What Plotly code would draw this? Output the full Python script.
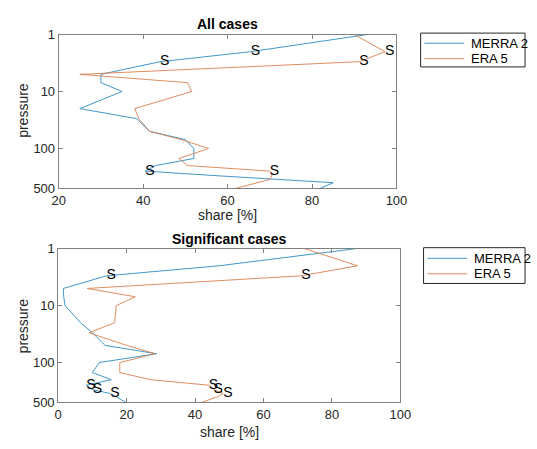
import plotly.graph_objects as go
import numpy as np

pressure = [1, 2, 3, 5, 7, 10, 20, 30, 50, 70, 100, 150, 200, 250, 300, 350, 400, 500]

all_merra = [93, 65.5, 44, 30, 30, 35, 25, 38.5, 41.5, 50, 52, 52, 43, 40.5, 57, 72, 85, 82]
all_era = [90, 97.3, 91.2, 25, 50.5, 51.5, 38, 39, 41.5, 49, 55.5, 48.5, 50.5, 70, 70.5, 70, 67, 62]
sig_merra = [87, 47, 14.1, 1.5, 1.6, 2, 6.5, 10, 13.7, 28.7, 12, 10, 15.5, 8.2, 10.1, 15.2, 17, 19.7]
sig_era = [72, 87.5, 71, 8.5, 22.5, 17, 16.5, 9, 20, 28.3, 18, 18, 27, 44, 45.4, 48.2, 46.5, 42]

all_merra_S = [2, 3, 250]
all_era_S = [2, 3, 250]
sig_merra_S = [3, 250, 300, 350]
sig_era_S = [3, 250, 300, 350]

series_names = ["MERRA 2", "ERA 5"]
colors = ["#2b8cc2", "#d9804f"]

W, H = 537, 449
FONT = "Liberation Sans, Arial"
fig = go.Figure()

def add_panel(vals_list, s_list, xa, ya):
    for vals, name, col in zip(vals_list, series_names, colors):
        fig.add_trace(go.Scatter(x=vals, y=pressure, mode="lines", name=name,
                                 line=dict(color=col, width=0.9), xaxis=xa, yaxis=ya,
                                 showlegend=False))
    for vals, sl in zip(vals_list, s_list):
        xs = [vals[pressure.index(p)] for p in sl]
        fig.add_trace(go.Scatter(x=xs, y=sl, mode="text", text=["S"] * len(sl),
                                 textposition="middle right",
                                 textfont=dict(family=FONT, size=14, color="#000000"),
                                 xaxis=xa, yaxis=ya, showlegend=False, hoverinfo="skip"))

add_panel([all_merra, all_era], [all_merra_S, all_era_S], "x", "y")
add_panel([sig_merra, sig_era], [sig_merra_S, sig_era_S], "x2", "y2")

axcol = "#808080"
tickfont = dict(family=FONT, size=13, color="#262626")
common_x = dict(showline=True, mirror="ticks", linecolor=axcol, linewidth=1, ticks="inside",
                ticklen=4, tickcolor=axcol, showgrid=False, zeroline=False, tickfont=tickfont)
common_y = dict(common_x, type="log", range=[np.log10(500), 0],
                tickvals=[1, 10, 100, 500], ticktext=["1", "10", "100", "500"])

fig.update_layout(
    width=W, height=H, margin=dict(l=0, r=0, t=0, b=0),
    paper_bgcolor="white", plot_bgcolor="white", showlegend=False,
    xaxis=dict(common_x, domain=[53.5 / W, 403 / W], range=[20, 100], tickvals=[20, 40, 60, 80, 100], anchor="y"),
    yaxis=dict(common_y, domain=[1 - 187.5 / H, 1 - 28.5 / H], anchor="x"),
    xaxis2=dict(common_x, domain=[53 / W, 407 / W], range=[0, 100], tickvals=[0, 20, 40, 60, 80, 100], anchor="y2"),
    yaxis2=dict(common_y, domain=[1 - 409 / H, 1 - 250 / H], anchor="x2"),
)

afont = dict(family=FONT, size=14, color="#262626")
ann = [
    dict(text="<b>All cases</b>", x=228 / W, y=1 - 18 / H, font=dict(afont, size=14, color="#000000")),
    dict(text="<b>Significant cases</b>", x=230 / W, y=1 - 240 / H, font=dict(afont, size=14, color="#000000")),
    dict(text="share [%]", x=228 / W, y=1 - 215.5 / H, font=afont),
    dict(text="share [%]", x=230 / W, y=1 - 440 / H, font=afont),
    dict(text="pressure", x=17 / W, y=1 - 107 / H, textangle=-90, font=afont),
    dict(text="pressure", x=17 / W, y=1 - 330 / H, textangle=-90, font=afont),
]
for a in ann:
    fig.add_annotation(xref="paper", yref="paper", showarrow=False, xanchor="center", yanchor="middle", **a)

# legends (MATLAB-style boxes)
legend_boxes = [(428, 27, 536, 62), (431, 249, 536, 286)]
for (x0, y0, x1, y1) in legend_boxes:
    fig.add_shape(type="rect", xref="paper", yref="paper", x0=x0 / W, x1=x1 / W,
                  y0=1 - y1 / H, y1=1 - y0 / H, line=dict(color="#262626", width=1),
                  fillcolor="white", layer="above")
    rows = [y0 + 10.5, y0 + 26.5] if y1 - y0 < 36 else [y0 + 11, y0 + 27]
    for ry, name, col in zip(rows, series_names, colors):
        fig.add_shape(type="line", xref="paper", yref="paper", x0=(x0 + 4) / W, x1=(x0 + 45) / W,
                      y0=1 - ry / H, y1=1 - ry / H, line=dict(color=col, width=0.9), layer="above")
        fig.add_annotation(xref="paper", yref="paper", x=(x0 + 50) / W, y=1 - ry / H, text=name,
                           showarrow=False, xanchor="left", yanchor="middle",
                           font=dict(family=FONT, size=13, color="#000000"))

fig.write_html("out.html")
